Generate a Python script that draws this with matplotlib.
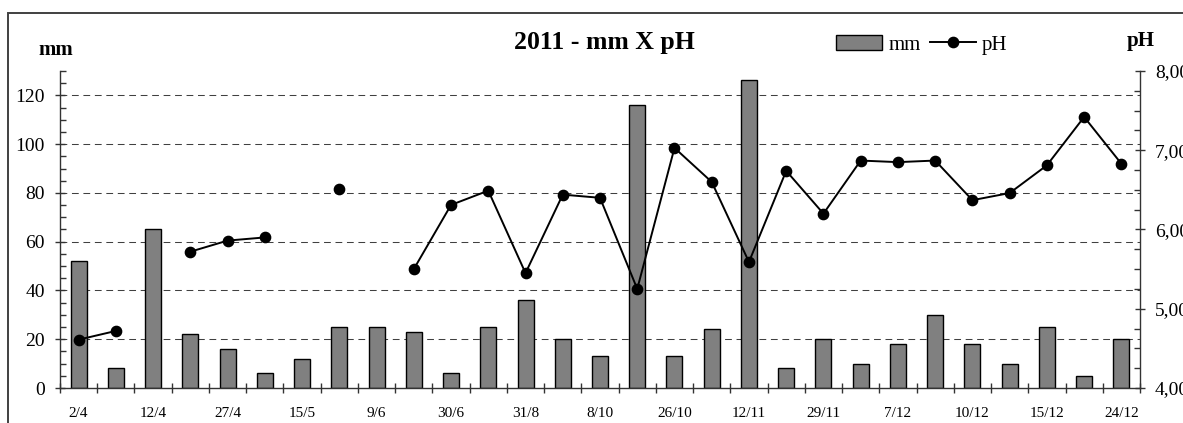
import matplotlib

matplotlib.use("Agg")
import matplotlib.pyplot as plt
import numpy as np
from matplotlib.lines import Line2D
from matplotlib.patches import Patch, Rectangle
from matplotlib.ticker import FixedLocator, FuncFormatter, MultipleLocator

# rainfall (mm) and pH per collection, 29 collections in 2011
mm_values = [52, 8, 65, 22, 16, 6, 12, 25, 25, 23, 6, 25, 36, 20, 13, 116, 13, 24,
             126.5, 8, 20, 10, 18, 30, 18, 10, 25, 5, 20]
ph_values = [4.61, 4.72, np.nan, 5.72, 5.86, 5.90, np.nan, 6.51, np.nan, 5.50, 6.31, 6.49,
             5.45, 6.44, 6.40, 5.25, 7.03, 6.60, 5.59, 6.74, 6.20, 6.87, 6.85, 6.87,
             6.37, 6.46, 6.81, 7.42, 6.83]
# only every second collection carries a date label on the chart
date_labels = ["2/4", "12/4", "27/4", "15/5", "9/6", "30/6", "31/8", "8/10", "26/10",
               "12/11", "29/11", "7/12", "10/12", "15/12", "24/12"]

plt.rcParams["font.family"] = ["Liberation Serif", "DejaVu Serif"]

W, H = 1183, 423
fig = plt.figure(figsize=(W / 100, H / 100), dpi=100)
ax = fig.add_axes([60 / W, 35 / H, 1080 / W, 317 / H])
ax2 = ax.twinx()

n = len(mm_values)
x = np.arange(n)
spine_color = "#333333"

ax.bar(x, mm_values, width=0.43, color="#808080", edgecolor="black", linewidth=1.0, zorder=2)
ax2.plot(x, ph_values, color="black", linewidth=1.4, marker="o", markersize=7.4, zorder=3)

ax.set_xlim(-0.5, n - 0.5)
ax.set_ylim(0, 130)
ax2.set_ylim(4, 8)

# gridlines only at the labelled mm values
for v in range(20, 121, 20):
    ax.axhline(v, color="#404040", linewidth=0.75, linestyle=(0, (6.5, 4.5)), zorder=1)

# x axis: ticks at category boundaries, labels under every second bar
ax.xaxis.set_major_locator(FixedLocator(np.arange(-0.5, n, 1.0)))
ax.xaxis.set_major_formatter(FuncFormatter(lambda v, p: ""))
ax.xaxis.set_minor_locator(FixedLocator(x[::2]))
ax.set_xticklabels(date_labels, minor=True)
ax.tick_params(axis="x", which="major", direction="inout", length=7.5, width=1.0, color=spine_color)
ax.tick_params(axis="x", which="minor", length=0, pad=13.5, labelsize=11)

ax.yaxis.set_major_locator(MultipleLocator(20))
ax.yaxis.set_minor_locator(MultipleLocator(5))
ax.tick_params(axis="y", which="major", direction="inout", length=7.5, width=1.0,
               color=spine_color, labelsize=14, pad=7)
ax.tick_params(axis="y", which="minor", direction="in", length=4, width=1.0, color=spine_color)

ax2.yaxis.set_major_locator(MultipleLocator(1))
ax2.yaxis.set_minor_locator(MultipleLocator(0.25))
ax2.yaxis.set_major_formatter(FuncFormatter(lambda v, p: f"{v:.2f}".replace(".", ",")))
ax2.tick_params(axis="y", which="major", direction="inout", length=7.5, width=1.0,
                color=spine_color, labelsize=14, pad=7)
ax2.tick_params(axis="y", which="minor", direction="in", length=4, width=1.0, color=spine_color)

for a in (ax, ax2):
    a.spines["top"].set_visible(False)
    for s in ("left", "right", "bottom"):
        a.spines[s].set_color(spine_color)
        a.spines[s].set_linewidth(1.0)
ax.spines["right"].set_visible(False)
ax2.spines["left"].set_visible(False)
ax2.spines["bottom"].set_visible(False)
ax.set_facecolor("none")

fig.text(604 / W, 1 - 43 / H, "2011 - mm X pH", ha="center", va="center",
         fontsize=18.5, fontweight="bold")
fig.text(56 / W, 1 - 50 / H, "mm", ha="center", va="center", fontsize=15, fontweight="bold")
fig.text(1141 / W, 1 - 41 / H, "pH", ha="center", va="center", fontsize=15, fontweight="bold")

handles = [
    Patch(facecolor="#808080", edgecolor="black", linewidth=1.0, label="mm"),
    Line2D([], [], color="black", linewidth=1.4, marker="o", markersize=7.4, label="pH"),
]
fig.legend(handles=handles, loc="center", bbox_to_anchor=(922 / W, 1 - 45 / H), ncol=2,
           frameon=False, fontsize=15, handlelength=2.2, handletextpad=0.3,
           columnspacing=0.45, borderpad=0, borderaxespad=0)

# chart area border (right and bottom edges run off the image)
fig.patches.append(Rectangle((8 / W, -0.2), 1.2, 1 - 13 / H + 0.2, transform=fig.transFigure,
                             fill=False, edgecolor="#404040", linewidth=1.4, clip_on=False))

fig.savefig("out.png", dpi=100)
